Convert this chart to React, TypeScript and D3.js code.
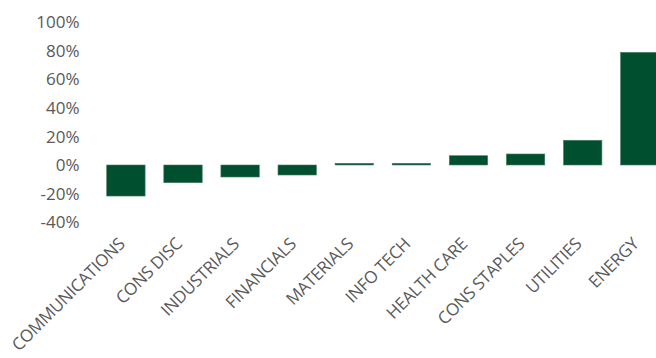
import React from "react";
import * as d3 from "d3";

const categories = [
  "COMMUNICATIONS",
  "CONS DISC",
  "INDUSTRIALS",
  "FINANCIALS",
  "MATERIALS",
  "INFO TECH",
  "HEALTH CARE",
  "CONS STAPLES",
  "UTILITIES",
  "ENERGY",
];
const values = [-21.7, -12.4, -8.4, -7.0, 1.2, 1.2, 6.5, 7.7, 17.3, 78.8];
const yTicks = [-40, -20, 0, 20, 40, 60, 80, 100];

const W = 656;
const H = 358;
const FONT = "'Open Sans', 'Noto Sans', sans-serif";
const BAR = "#004f2f";
const TEXT = "#595959";

export default function App() {
  const x = d3
    .scaleBand<string>()
    .domain(categories)
    .range([97.35, 668.35])
    .paddingInner(0.3275)
    .paddingOuter(0.16375);
  const y = d3.scaleLinear().domain([-40, 100]).range([222.2, 22]);
  const fmt = (v: number) => `${v}%`;

  return (
    <svg
      width={W}
      height={H}
      style={{ position: "absolute", left: 0, top: 0, display: "block", background: "#fff" }}
    >
      <g>
        {yTicks.map((t) => (
          <text
            key={t}
            x={79.5}
            y={y(t)}
            dy="0.36em"
            textAnchor="end"
            fontFamily={FONT}
            fontSize={17}
            fill={TEXT}
          >
            {fmt(t)}
          </text>
        ))}
      </g>
      <g>
        {categories.map((c, i) => {
          const v = values[i];
          const y0 = y(0);
          const y1 = y(v);
          return (
            <rect
              key={c}
              x={x(c)}
              y={Math.min(y0, y1)}
              width={x.bandwidth()}
              height={Math.abs(y1 - y0)}
              fill={BAR}
              stroke="#4a7d63"
              strokeWidth={0.6}
            />
          );
        })}
      </g>
      <g>
        {categories.map((c) => {
          const cx = (x(c) as number) + x.bandwidth() / 2;
          return (
            <text
              key={c}
              transform={`translate(${cx},${245}) rotate(-45)`}
              textAnchor="end"
              fontFamily={FONT}
              fontSize={17}
              letterSpacing={-0.3}
              fill={TEXT}
            >
              {c}
            </text>
          );
        })}
      </g>
    </svg>
  );
}
